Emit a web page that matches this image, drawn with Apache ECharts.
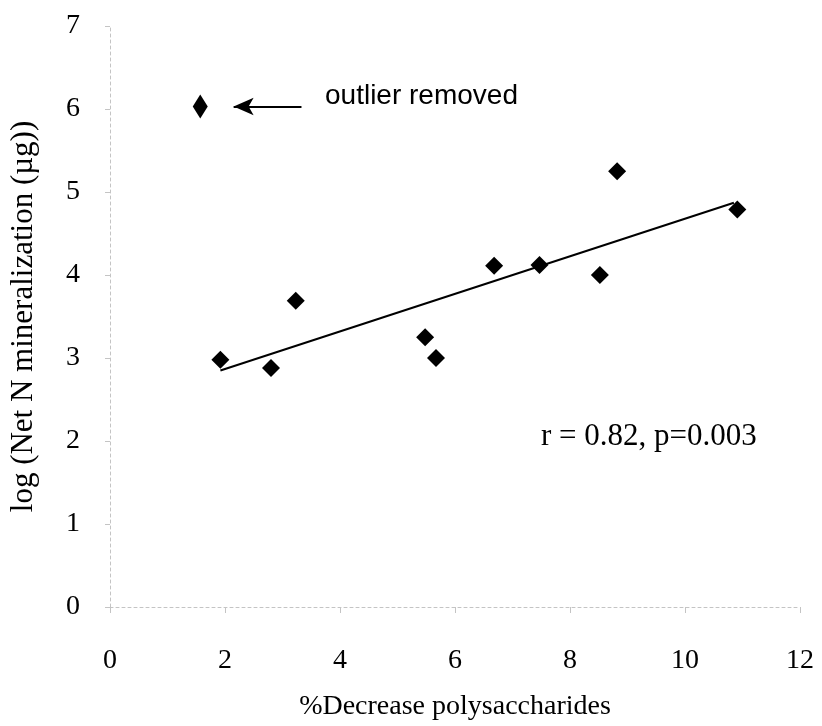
<!DOCTYPE html>
<html>
<head>
<meta charset="utf-8">
<script src="https://cdn.jsdelivr.net/npm/echarts@6/dist/echarts.min.js"></script>
<style>
  html, body { margin: 0; padding: 0; background: #fff; }
  #chart { width: 822px; height: 726px; }
</style>
</head>
<body>
<div id="chart"></div>
<script>
// % decrease in polysaccharides vs. log net N mineralization
const decreasePct = [1.92, 2.80, 3.23, 5.48, 5.67, 6.68, 7.47, 8.52, 8.82, 10.91];
const logNetN     = [2.98, 2.88, 3.69, 3.25, 3.00, 4.11, 4.12, 4.00, 5.25, 4.79];

// point excluded from the regression
const outlierX = [1.57];
const outlierY = [6.03];

// fitted regression line end points
const fitX = [1.92, 10.85];
const fitY = [2.85, 4.87];

// arrow pointing at the excluded point (tail -> head)
const arrowX = [3.33, 2.15];
const arrowY = [6.03, 6.03];

const xTicks = [0, 2, 4, 6, 8, 10, 12];
const yTicks = [0, 1, 2, 3, 4, 5, 6, 7];

const zip = (a, b) => a.map((v, i) => [v, b[i]]);

const serif = '"Liberation Serif", "DejaVu Serif", serif';
const sans = '"Liberation Sans", Arial, sans-serif';

const chart = echarts.init(document.getElementById('chart'), null, { renderer: 'canvas' });

const axisLineStyle = { color: '#c4c4c4', width: 1, type: [3, 3] };

chart.setOption({
  backgroundColor: '#ffffff',
  animation: false,
  grid: { left: 110, right: 22, top: 26, bottom: 119, containLabel: false, outerBoundsMode: 'none' },
  xAxis: {
    type: 'value',
    min: xTicks[0], max: xTicks[xTicks.length - 1], interval: 2,
    name: '%Decrease polysaccharides',
    nameLocation: 'middle', nameGap: 86,
    nameTextStyle: { fontFamily: serif, fontSize: 28, color: '#000' },
    axisLine: { show: true, lineStyle: axisLineStyle },
    axisTick: { show: true, length: 6, lineStyle: { color: '#c4c4c4' } },
    axisLabel: { fontFamily: serif, fontSize: 28, color: '#000', margin: 40 },
    splitLine: { show: false }
  },
  yAxis: {
    type: 'value',
    min: yTicks[0], max: yTicks[yTicks.length - 1], interval: 1,
    name: 'log (Net N mineralization (µg))',
    nameLocation: 'middle', nameGap: 71, nameRotate: 90,
    nameTextStyle: { fontFamily: serif, fontSize: 31, color: '#000' },
    axisLine: { show: true, lineStyle: axisLineStyle },
    axisTick: { show: true, length: 5, lineStyle: { color: '#c4c4c4' } },
    axisLabel: { fontFamily: serif, fontSize: 28, color: '#000', margin: 30 },
    splitLine: { show: false }
  },
  series: [
    {
      name: 'fit',
      type: 'line',
      data: zip(fitX, fitY),
      symbol: 'none',
      lineStyle: { color: '#000', width: 2 },
      z: 2
    },
    {
      name: 'samples',
      type: 'scatter',
      data: zip(decreasePct, logNetN),
      symbol: 'diamond',
      symbolSize: 18,
      itemStyle: { color: '#000', opacity: 1 },
      z: 3
    },
    {
      name: 'outlier',
      type: 'scatter',
      data: zip(outlierX, outlierY),
      symbol: 'diamond',
      symbolSize: [15, 24],
      itemStyle: { color: '#000', opacity: 1 },
      z: 3,
      markLine: {
        silent: true,
        symbol: ['none', 'arrow'],
        symbolSize: [13, 20],
        lineStyle: { color: '#000', width: 2, type: 'solid' },
        label: { show: false },
        data: [[
          { coord: [arrowX[0], arrowY[0]] },
          { coord: [arrowX[1], arrowY[1]] }
        ]]
      }
    }
  ],
  graphic: [
    {
      type: 'text', left: 325, top: 82,
      style: { text: 'outlier removed', font: '28px ' + sans, fill: '#000' }
    },
    {
      type: 'text', left: 541, top: 421,
      style: { text: 'r = 0.82, p=0.003', font: '31px ' + serif, fill: '#000' }
    }
  ]
});
</script>
</body>
</html>
